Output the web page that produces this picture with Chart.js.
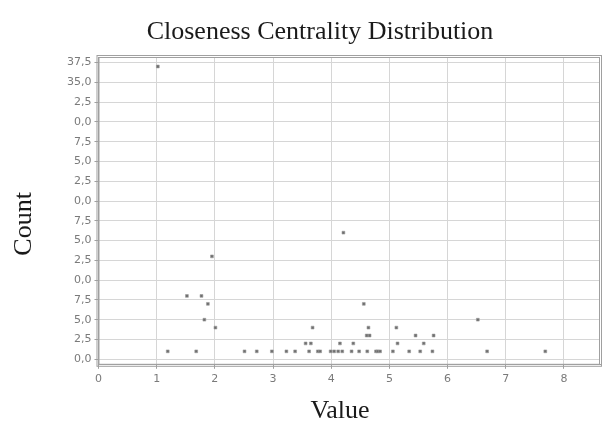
<!DOCTYPE html>
<html>
<head>
<meta charset="utf-8">
<title>Closeness Centrality Distribution</title>
<script src="https://cdn.jsdelivr.net/npm/chart.js@4.4.0/dist/chart.umd.min.js"></script>
<style>
  body { margin: 0; background: #fff; }
  #wrap { width: 606px; height: 426px; }
</style>
</head>
<body>
<div id="wrap"><canvas id="grafico" width="606" height="426"></canvas></div>
<script>
// valores (valor de centralidade, contagem)
const valores = [1.02, 1.19, 1.52, 1.68, 1.77, 1.82, 1.88, 1.95, 2.01,
  2.51, 2.72, 2.98, 3.23, 3.38, 3.56, 3.62, 3.65, 3.68, 3.77, 3.81,
  3.99, 4.05, 4.12, 4.19, 4.15, 4.21, 4.35, 4.38, 4.48, 4.56, 4.61, 4.62, 4.64, 4.66, 4.77, 4.80, 4.84,
  5.06, 5.12, 5.14, 5.34, 5.45, 5.53, 5.59, 5.74, 5.76, 6.52, 6.68, 7.68];
const contagens = [37, 1, 8, 1, 8, 5, 7, 13, 4,
  1, 1, 1, 1, 1, 2, 1, 2, 4, 1, 1,
  1, 1, 1, 1, 2, 16, 1, 2, 1, 7, 3, 1, 4, 3, 1, 1, 1,
  1, 4, 2, 1, 3, 1, 2, 1, 3, 5, 1, 1];
// rotulos do eixo y como aparecem (cortados) na imagem, de baixo para cima
const rotulosY = ['0,0', '2,5', '5,0', '7,5', '0,0', '2,5', '5,0', '7,5',
  '0,0', '2,5', '5,0', '7,5', '0,0', '2,5', '35,0', '37,5'];
const rotulosX = ['0', '1', '2', '3', '4', '5', '6', '7', '8'];
const titulo = 'Closeness Centrality Distribution';
const tituloX = 'Value';
const tituloY = 'Count';

const pontos = valores.map(function (v, i) { return { x: v, y: contagens[i] }; });

// moldura dupla em volta da area do grafico
const moldura = {
  id: 'moldura',
  afterDraw: function (chart) {
    const a = chart.chartArea;
    const c = chart.ctx;
    c.save();
    c.strokeStyle = '#a0a0a0';
    c.lineWidth = 1;
    c.strokeRect(a.left + 0.5, a.top + 0.5, a.right - a.left - 1, a.bottom - a.top - 1);
    c.strokeRect(a.left - 1.5, a.top - 1.5, a.right - a.left + 3, a.bottom - a.top + 3);
    c.restore();
  }
};

// titulos em fonte serifada, na posicao da figura original
const textos = {
  id: 'textos',
  afterDraw: function (chart) {
    const c = chart.ctx;
    const a = chart.chartArea;
    c.save();
    c.fillStyle = '#1a1a1a';
    c.font = '26px "Liberation Serif"';
    c.textAlign = 'center';
    c.textBaseline = 'alphabetic';
    c.fillText(titulo, 320, 39);
    c.fillText(tituloX, 340, 418);
    c.translate(31, (a.top + a.bottom) / 2 + 13);
    c.rotate(-Math.PI / 2);
    c.fillText(tituloY, 0, 0);
    c.restore();
  }
};

const ctx = document.getElementById('grafico');
new Chart(ctx, {
  type: 'scatter',
  data: {
    datasets: [{
      label: tituloY,
      data: pontos,
      pointRadius: 2,
      pointStyle: 'rect',
      backgroundColor: '#6e6e6e',
      borderColor: '#9a9a9a',
      borderWidth: 0.6
    }]
  },
  options: {
    responsive: false,
    animation: false,
    layout: { padding: { left: 64, right: 6, top: 57, bottom: 36 } },
    plugins: {
      legend: { display: false },
      tooltip: { enabled: false },
      title: { display: false }
    },
    scales: {
      x: {
        type: 'linear',
        min: 0,
        max: 8.62,
        border: { color: '#a0a0a0' },
        grid: { color: '#d6d6d6', tickColor: '#a0a0a0', tickLength: 4 },
        ticks: {
          stepSize: 1,
          includeBounds: false,
          color: '#7a7a7a',
          font: { family: 'DejaVu Sans', size: 11 },
          padding: 4,
          callback: function (v) { return Number.isInteger(v) ? rotulosX[v] : ''; }
        }
      },
      y: {
        type: 'linear',
        min: -0.7,
        max: 38.2,
        border: { color: '#a0a0a0' },
        grid: { color: '#d6d6d6', tickColor: '#a0a0a0', tickLength: 4 },
        ticks: {
          stepSize: 2.5,
          includeBounds: false,
          color: '#7a7a7a',
          font: { family: 'DejaVu Sans', size: 11 },
          padding: 3,
          callback: function (v) {
            const i = Math.round(v / 2.5);
            return rotulosY[i] !== undefined ? rotulosY[i] : '';
          }
        }
      }
    }
  },
  plugins: [moldura, textos]
});
</script>
</body>
</html>
